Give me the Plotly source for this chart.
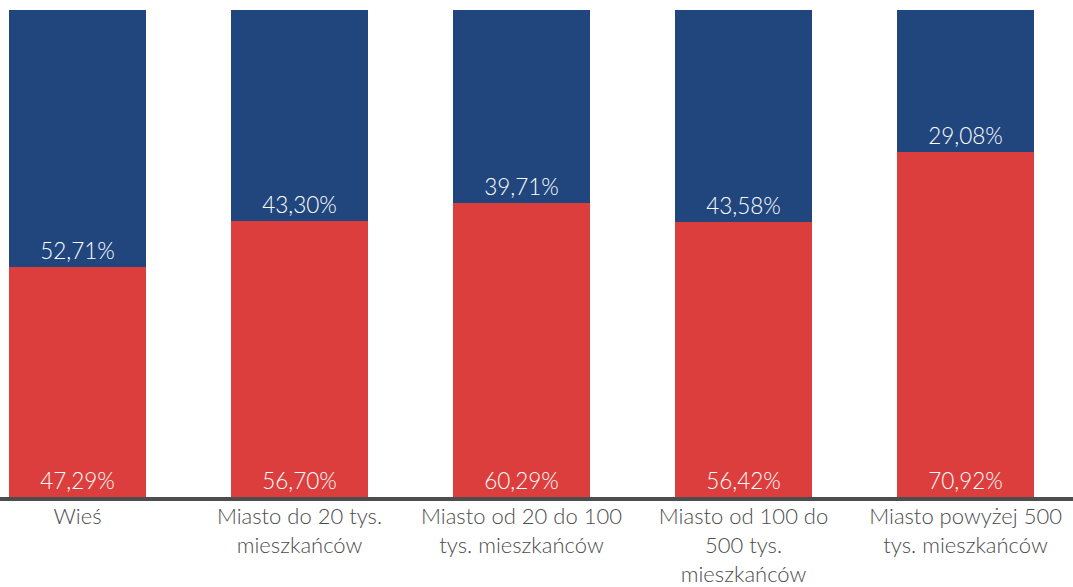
import plotly.graph_objects as go

categories = ["Wieś", "Miasto do 20 tys.<br>mieszkańców", "Miasto od 20 do 100<br>tys. mieszkańców",
              "Miasto od 100 do<br>500 tys.<br>mieszkańców", "Miasto powyżej 500<br>tys. mieszkańców"]
red_values = [47.29, 56.70, 60.29, 56.42, 70.92]
blue_values = [52.71, 43.30, 39.71, 43.58, 29.08]

def fmt(v):
    return f"{v:.2f}".replace(".", ",") + "%"

font_family = "Lato, 'Open Sans', sans-serif"
x = list(range(len(categories)))

fig = go.Figure()
fig.add_trace(go.Bar(x=x, y=red_values, marker_color="#dc3e3d", marker_line_width=0,
                     text=[fmt(v) for v in red_values], textposition="inside",
                     insidetextanchor="start", textangle=0, hoverinfo="skip",
                     textfont=dict(family=font_family, size=22.5, color="white", weight=300)))
fig.add_trace(go.Bar(x=x, y=blue_values, marker_color="#21467e", marker_line_width=0,
                     text=[fmt(v) for v in blue_values], textposition="inside",
                     insidetextanchor="start", textangle=0, hoverinfo="skip",
                     textfont=dict(family=font_family, size=22.5, color="white", weight=300)))

fig.update_layout(
    barmode="stack", bargap=0.383, showlegend=False,
    width=1073, height=587, margin=dict(l=0, r=0, t=10, b=90, autoexpand=False),
    plot_bgcolor="white", paper_bgcolor="white",
    font=dict(family=font_family),
    xaxis=dict(range=[-0.349, 4.484], tickmode="array", tickvals=x, ticktext=categories,
               automargin=False, ticklabelstandoff=-3,
               showline=True, linecolor="#4d4d4d", linewidth=4, showgrid=False,
               ticks="", tickfont=dict(family=font_family, size=22, color="#4d4d4d", weight=300)),
    yaxis=dict(range=[0, 100], visible=False, showgrid=False, automargin=False),
    uniformtext=dict(minsize=20, mode="show"),
)
fig.write_html("out.html", config={"displayModeBar": False},
               post_script="document.body.style.margin='0';")
